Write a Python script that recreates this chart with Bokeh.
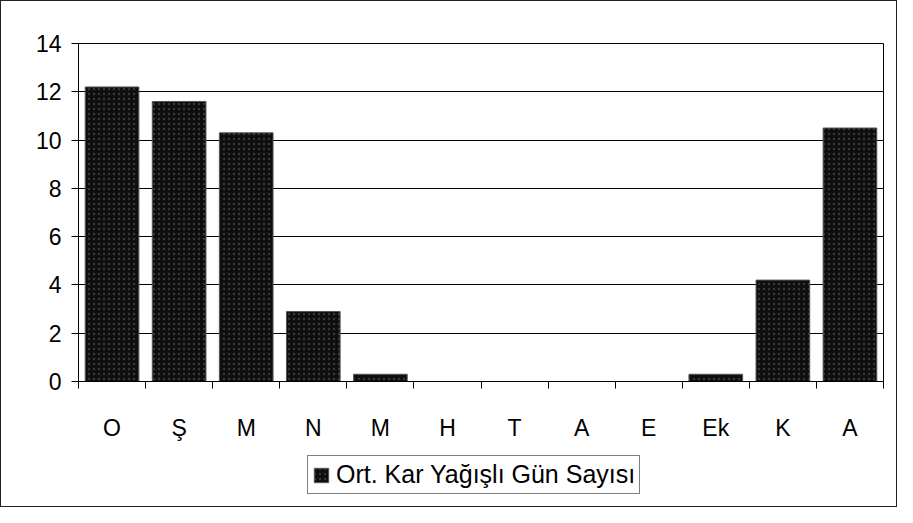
from bokeh.plotting import figure
from bokeh.layouts import column
from bokeh.models import FixedTicker, Range1d, Legend, LegendItem
from bokeh.embed import file_html
from bokeh.resources import INLINE

months = ["O", "Ş", "M", "N", "M", "H", "T", "A", "E", "Ek", "K", "A"]
snow_days = [12.2, 11.6, 10.3, 2.9, 0.3, 0, 0, 0, 0, 0.3, 4.2, 10.5]
y_ticks = [0, 2, 4, 6, 8, 10, 12, 14]
series_name = "Ort. Kar Yağışlı Gün Sayısı"

xs = [i + 0.5 for i in range(len(months))]

bar_style = dict(width=0.8, fill_color="#0e0e0e", line_color="#555555", line_width=1,
                 hatch_pattern="dot", hatch_color="#777777", hatch_scale=5, hatch_alpha=0.4)

W = 895
p = figure(width=W, height=442, output_backend="svg", toolbar_location=None,
           x_range=Range1d(0, len(months)), y_range=Range1d(0, 14),
           min_border_left=77, min_border_right=13, min_border_top=42, min_border_bottom=60)
p.background_fill_color = "white"
p.border_fill_color = "white"
p.outline_line_color = "black"
p.outline_line_width = 1

r = p.vbar(x=xs, top=snow_days, **bar_style)

p.xgrid.grid_line_color = None
p.ygrid.grid_line_color = "black"
p.ygrid.grid_line_width = 1
p.yaxis.ticker = FixedTicker(ticks=y_ticks, minor_ticks=[])
p.xaxis.ticker = FixedTicker(ticks=xs, minor_ticks=list(range(len(months) + 1)))
p.xaxis.major_label_overrides = {x: m for x, m in zip(xs, months)}

for ax in (p.xaxis[0], p.yaxis[0]):
    ax.axis_line_color = "black"
    ax.axis_line_width = 1
    ax.major_label_text_font = "Liberation Sans"
    ax.major_label_text_font_size = "23px"
    ax.major_label_text_color = "black"
    ax.major_tick_line_color = "black"
    ax.minor_tick_line_color = "black"

p.yaxis.major_tick_out = 7
p.yaxis.major_tick_in = 0
p.yaxis.minor_tick_out = 0
p.yaxis.major_label_standoff = 10

p.xaxis.major_tick_out = 0
p.xaxis.major_tick_in = 0
p.xaxis.minor_tick_out = 7
p.xaxis.minor_tick_in = 0
p.xaxis.major_label_standoff = 26

# legend strip below the chart (same series, drawn out of its view so only the legend shows)
q = figure(width=W, height=63, output_backend="svg", toolbar_location=None,
           x_axis_type=None, y_axis_type=None, min_border=0,
           x_range=Range1d(0, len(months)), y_range=Range1d(100, 101))
q.outline_line_color = None
q.grid.grid_line_color = None
q.background_fill_color = "white"
q.border_fill_color = "white"
lr = q.vbar(x=xs, top=snow_days, **bar_style)

legend = Legend(items=[LegendItem(label=series_name, renderers=[lr])],
                location=(229, 12), orientation="horizontal",
                border_line_color="black", border_line_width=1,
                label_text_font="Liberation Sans", label_text_font_size="25px",
                label_text_color="black",
                glyph_width=18, glyph_height=18, padding=4, margin=0, spacing=0,
                label_standoff=6, background_fill_alpha=1)
q.add_layout(legend, "center")

layout = column(p, q, spacing=0)
layout.styles = {"border": "1px solid #222222"}

open("out.html", "w").write(file_html(layout, INLINE))
